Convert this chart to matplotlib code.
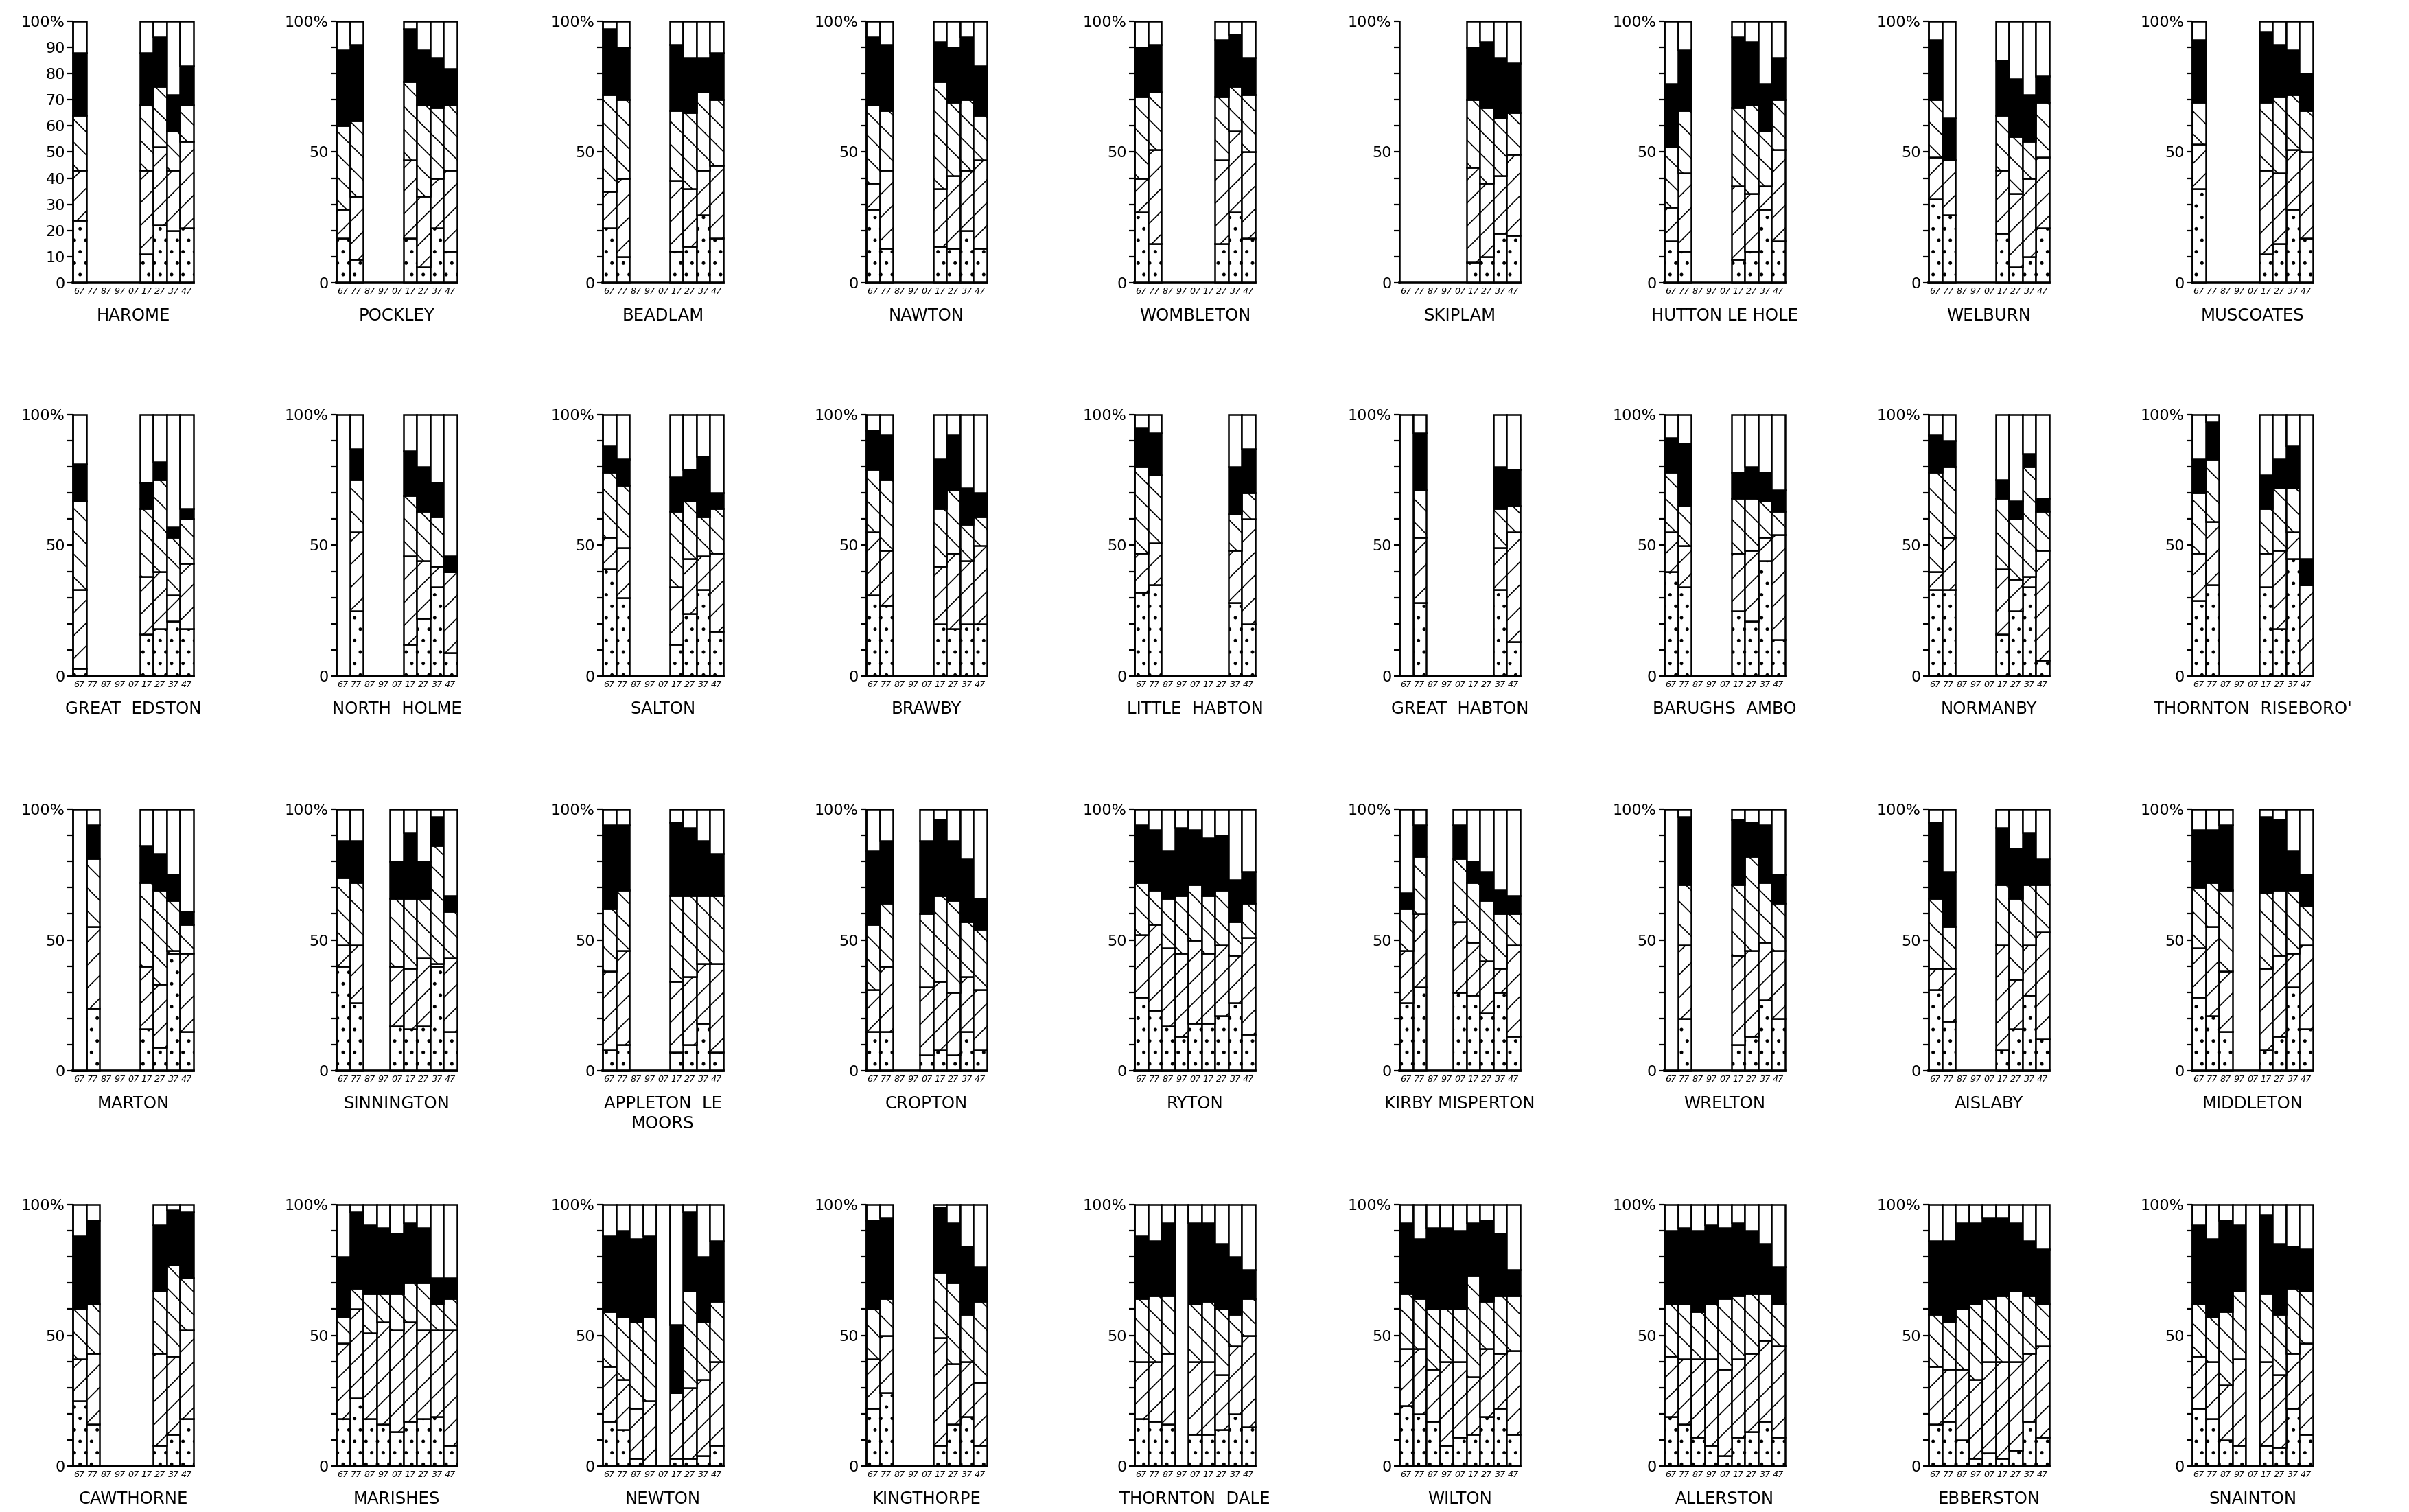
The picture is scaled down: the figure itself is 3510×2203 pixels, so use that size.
import matplotlib.pyplot as plt
from matplotlib.ticker import FixedLocator, FixedFormatter

N = None  # census year with no bar

years = ['67', '77', '87', '97', '07', '17', '27', '37', '47']

villages = [
    'HAROME', 'POCKLEY', 'BEADLAM', 'NAWTON', 'WOMBLETON', 'SKIPLAM',
    'HUTTON LE HOLE', 'WELBURN', 'MUSCOATES',
    'GREAT  EDSTON', 'NORTH  HOLME', 'SALTON', 'BRAWBY', 'LITTLE  HABTON',
    'GREAT  HABTON', 'BARUGHS  AMBO', 'NORMANBY', "THORNTON  RISEBORO'",
    'MARTON', 'SINNINGTON', 'APPLETON  LE\nMOORS', 'CROPTON', 'RYTON',
    'KIRBY MISPERTON', 'WRELTON', 'AISLABY', 'MIDDLETON',
    'CAWTHORNE', 'MARISHES', 'NEWTON', 'KINGTHORPE', 'THORNTON  DALE',
    'WILTON', 'ALLERSTON', 'EBBERSTON', 'SNAINTON',
]

# cumulative % at the top of each band (dotted, /, \, black); white fills to 100
dots_top = [
    [24, N, N, N, N, 11, 22, 20, 21],   # harome
    [17, 9, N, N, N, 17, 6, 21, 12],    # pockley
    [21, 10, N, N, N, 12, 14, 26, 17],  # beadlam
    [28, 13, N, N, N, 14, 13, 20, 13],  # nawton
    [27, 15, N, N, N, N, 15, 27, 17],   # wombleton
    [N, N, N, N, N, 8, 10, 19, 18],     # skiplam
    [16, 12, N, N, N, 9, 12, 28, 16],   # hutton le hole
    [32, 26, N, N, N, 19, 6, 10, 21],   # welburn
    [36, N, N, N, N, 11, 15, 28, 17],   # muscoates
    [3, N, N, N, N, 16, 18, 21, 18],    # great edston
    [0, 25, N, N, N, 12, 22, 34, 9],    # north holme
    [41, 30, N, N, N, 12, 24, 33, 17],  # salton
    [31, 27, N, N, N, 20, 18, 20, 20],  # brawby
    [32, 35, N, N, N, N, N, 28, 20],    # little habton
    [0, 28, N, N, N, N, N, 33, 13],     # great habton
    [40, 34, N, N, N, 25, 21, 44, 14],  # barughs ambo
    [33, 33, N, N, N, 16, 25, 34, 6],   # normanby
    [29, 35, N, N, N, 34, 18, 45, 0],   # thornton riseboro
    [0, 24, N, N, N, 16, 9, 45, 15],    # marton
    [40, 26, N, N, 17, 16, 17, 40, 15], # sinnington
    [8, 10, N, N, N, 7, 10, 18, 7],     # appleton le moors
    [15, 15, N, N, 6, 8, 6, 15, 8],     # cropton
    [28, 23, 17, 13, 18, 18, 21, 26, 14],  # ryton
    [26, 32, N, N, 30, 29, 22, 30, 13], # kirby misperton
    [0, 20, N, N, N, 10, 13, 27, 20],   # wrelton
    [31, 19, N, N, N, 8, 16, 29, 12],   # aislaby
    [28, 21, 15, N, N, 8, 13, 32, 16],  # middleton
    [25, 16, N, N, N, N, 8, 12, 18],    # cawthorne
    [18, 26, 18, 16, 13, 17, 18, 19, 8],   # marishes
    [17, 14, 3, 0, 0, 3, 3, 4, 8],      # newton
    [22, 28, N, N, N, 8, 16, 19, 8],    # kingthorpe
    [18, 17, 16, 0, 12, 12, 14, 20, 15],   # thornton dale
    [23, 20, 17, 8, 11, 12, 19, 22, 12],   # wilton
    [19, 16, 11, 8, 4, 11, 13, 17, 11],    # allerston
    [16, 17, 10, 3, 5, 3, 6, 17, 11],      # ebberston
    [22, 18, 10, 8, 0, 8, 7, 22, 12],      # snainton
]

slash_top = [
    [43, N, N, N, N, 43, 52, 43, 54],
    [28, 33, N, N, N, 47, 33, 40, 43],
    [35, 40, N, N, N, 39, 36, 43, 45],
    [38, 43, N, N, N, 36, 41, 43, 47],
    [40, 51, N, N, N, N, 47, 58, 50],
    [N, N, N, N, N, 44, 38, 41, 49],
    [29, 42, N, N, N, 37, 34, 37, 51],
    [48, 47, N, N, N, 43, 34, 40, 48],
    [53, N, N, N, N, 43, 42, 51, 50],
    [33, N, N, N, N, 38, 40, 31, 43],
    [0, 55, N, N, N, 46, 44, 42, 40],
    [53, 49, N, N, N, 34, 45, 46, 47],
    [55, 48, N, N, N, 42, 47, 44, 50],
    [47, 51, N, N, N, N, N, 48, 60],
    [0, 53, N, N, N, N, N, 49, 55],
    [55, 50, N, N, N, 47, 48, 53, 54],
    [40, 53, N, N, N, 41, 37, 38, 48],
    [47, 59, N, N, N, 47, 48, 55, 35],
    [0, 55, N, N, N, 40, 33, 46, 45],
    [48, 48, N, N, 40, 39, 43, 41, 43],
    [38, 46, N, N, N, 34, 36, 41, 41],
    [31, 40, N, N, 32, 34, 30, 36, 31],
    [52, 56, 47, 45, 50, 45, 48, 44, 51],
    [46, 60, N, N, 57, 49, 42, 39, 48],
    [0, 48, N, N, N, 44, 46, 49, 46],
    [39, 39, N, N, N, 48, 35, 48, 53],
    [47, 55, 38, N, N, 39, 44, 45, 48],
    [41, 43, N, N, N, N, 43, 42, 52],
    [47, 60, 51, 55, 52, 55, 52, 52, 52],
    [38, 33, 22, 25, 0, 28, 30, 33, 40],
    [41, 50, N, N, N, 49, 39, 40, 32],
    [40, 40, 43, 0, 40, 40, 35, 46, 50],
    [45, 45, 37, 40, 40, 34, 45, 43, 44],
    [42, 41, 41, 41, 37, 41, 43, 48, 46],
    [38, 37, 37, 33, 40, 40, 40, 43, 46],
    [42, 40, 31, 41, 0, 40, 35, 43, 47],
]

back_top = [
    [64, N, N, N, N, 68, 75, 58, 68],
    [60, 62, N, N, N, 77, 68, 67, 68],
    [72, 70, N, N, N, 66, 65, 73, 70],
    [68, 66, N, N, N, 77, 69, 70, 64],
    [71, 73, N, N, N, N, 71, 75, 72],
    [N, N, N, N, N, 70, 67, 63, 65],
    [52, 66, N, N, N, 67, 68, 58, 70],
    [70, 47, N, N, N, 64, 56, 54, 69],
    [69, N, N, N, N, 69, 71, 72, 66],
    [67, N, N, N, N, 64, 75, 53, 60],
    [0, 75, N, N, N, 69, 63, 61, 40],
    [78, 73, N, N, N, 63, 67, 61, 64],
    [79, 75, N, N, N, 64, 71, 58, 61],
    [80, 77, N, N, N, N, N, 62, 70],
    [0, 71, N, N, N, N, N, 64, 65],
    [78, 65, N, N, N, 68, 68, 67, 63],
    [78, 80, N, N, N, 68, 60, 80, 63],
    [70, 83, N, N, N, 64, 72, 72, 35],
    [0, 81, N, N, N, 72, 69, 65, 56],
    [74, 72, N, N, 66, 66, 66, 86, 61],
    [62, 69, N, N, N, 67, 67, 67, 67],
    [56, 64, N, N, 60, 67, 65, 57, 54],
    [72, 69, 66, 67, 71, 67, 69, 57, 64],
    [62, 82, N, N, 81, 72, 65, 60, 60],
    [0, 71, N, N, N, 71, 82, 72, 64],
    [66, 55, N, N, N, 71, 66, 71, 71],
    [70, 72, 69, N, N, 68, 69, 69, 63],
    [60, 62, N, N, N, N, 67, 77, 72],
    [57, 68, 66, 66, 66, 70, 70, 62, 64],
    [59, 57, 55, 57, 0, 28, 67, 55, 63],
    [60, 64, N, N, N, 74, 70, 58, 63],
    [64, 65, 65, 0, 62, 63, 60, 58, 64],
    [66, 64, 60, 60, 60, 73, 63, 65, 65],
    [62, 62, 59, 62, 64, 65, 66, 66, 62],
    [58, 55, 60, 62, 64, 65, 67, 65, 62],
    [62, 57, 59, 67, 0, 66, 58, 68, 67],
]

black_top = [
    [88, N, N, N, N, 88, 94, 72, 83],
    [89, 91, N, N, N, 97, 89, 86, 82],
    [97, 90, N, N, N, 91, 86, 86, 88],
    [94, 91, N, N, N, 92, 90, 94, 83],
    [90, 91, N, N, N, N, 93, 95, 86],
    [N, N, N, N, N, 90, 92, 86, 84],
    [76, 89, N, N, N, 94, 92, 76, 86],
    [93, 63, N, N, N, 85, 78, 72, 79],
    [93, N, N, N, N, 96, 91, 89, 80],
    [81, N, N, N, N, 74, 82, 57, 64],
    [0, 87, N, N, N, 86, 80, 74, 46],
    [88, 83, N, N, N, 76, 79, 84, 70],
    [94, 92, N, N, N, 83, 92, 72, 70],
    [95, 93, N, N, N, N, N, 80, 87],
    [0, 93, N, N, N, N, N, 80, 79],
    [91, 89, N, N, N, 78, 80, 78, 71],
    [92, 90, N, N, N, 75, 67, 85, 68],
    [83, 97, N, N, N, 77, 83, 88, 45],
    [0, 94, N, N, N, 86, 83, 75, 61],
    [88, 88, N, N, 80, 91, 80, 97, 67],
    [94, 94, N, N, N, 95, 93, 88, 83],
    [84, 88, N, N, 88, 96, 88, 81, 66],
    [94, 92, 84, 93, 92, 89, 90, 73, 76],
    [68, 94, N, N, 94, 80, 76, 69, 67],
    [0, 97, N, N, N, 96, 95, 94, 75],
    [95, 76, N, N, N, 93, 85, 91, 81],
    [92, 92, 94, N, N, 97, 96, 84, 75],
    [88, 94, N, N, N, N, 92, 98, 97],
    [80, 97, 92, 91, 89, 93, 91, 72, 72],
    [88, 90, 87, 88, 0, 54, 97, 80, 86],
    [94, 95, N, N, N, 99, 93, 84, 76],
    [88, 86, 93, 0, 93, 93, 85, 80, 75],
    [93, 87, 91, 91, 90, 93, 94, 89, 75],
    [90, 91, 90, 92, 91, 93, 90, 85, 76],
    [86, 86, 93, 93, 95, 95, 93, 86, 83],
    [92, 87, 94, 92, 0, 96, 85, 84, 83],
]

plt.rcParams['hatch.linewidth'] = 0.6
plt.rcParams['font.family'] = 'DejaVu Sans'

W, H = 3510, 2203
fig = plt.figure(figsize=(W / 200, H / 200), dpi=200)

# pixel layout of the 4 x 9 grid
col_left = [106, 490, 878, 1262, 1653, 2039, 2425, 2810, 3194]
row_zero = [412, 985, 1560, 2136]
ax_w, ax_h = 176, 381

# (face colour, hatch) for each band from the bottom up
bands = [('white', '..'), ('white', '//'), ('white', '\\\\'), ('black', None), ('white', None)]

for i, name in enumerate(villages):
    r, c = divmod(i, 9)
    ax = fig.add_axes([col_left[c] / W, 1 - row_zero[r] / H, ax_w / W, ax_h / H])

    xs = [j for j in range(9) if dots_top[i][j] is not None]
    tops = [[dots_top[i][j], slash_top[i][j], back_top[i][j], black_top[i][j], 100] for j in xs]
    for k, (fc, hatch) in enumerate(bands):
        bottoms = [t[k - 1] if k > 0 else 0 for t in tops]
        heights = [t[k] - b for t, b in zip(tops, bottoms)]
        ax.bar(xs, heights, bottom=bottoms, width=1, facecolor=fc, edgecolor='black',
               linewidth=0.9, hatch=hatch, clip_on=False)

    ax.set_xlim(-0.5, 8.5)
    ax.set_ylim(0, 100)
    for side in ('top', 'right'):
        ax.spines[side].set_visible(False)
    ax.spines['left'].set_linewidth(0.9)
    ax.spines['bottom'].set_linewidth(1.3)

    ax.yaxis.set_major_locator(FixedLocator(range(0, 101, 10)))
    if i == 0:
        ylabels = [str(v) for v in range(0, 100, 10)] + ['100%']
    else:
        ylabels = ['0', '', '', '', '', '50', '', '', '', '', '100%']
    ax.yaxis.set_major_formatter(FixedFormatter(ylabels))
    ax.tick_params(axis='y', direction='out', length=3, width=0.8, labelsize=8, pad=1)

    ax.set_xticks(range(9))
    ax.set_xticklabels(years, fontsize=4.6, style='italic')
    ax.tick_params(axis='x', length=0, pad=2)

    ax.text(0.5, -0.095, name, transform=ax.transAxes, ha='center', va='top',
            fontsize=8.8, linespacing=1.25)

fig.savefig('out.png', dpi=200, facecolor='white')
